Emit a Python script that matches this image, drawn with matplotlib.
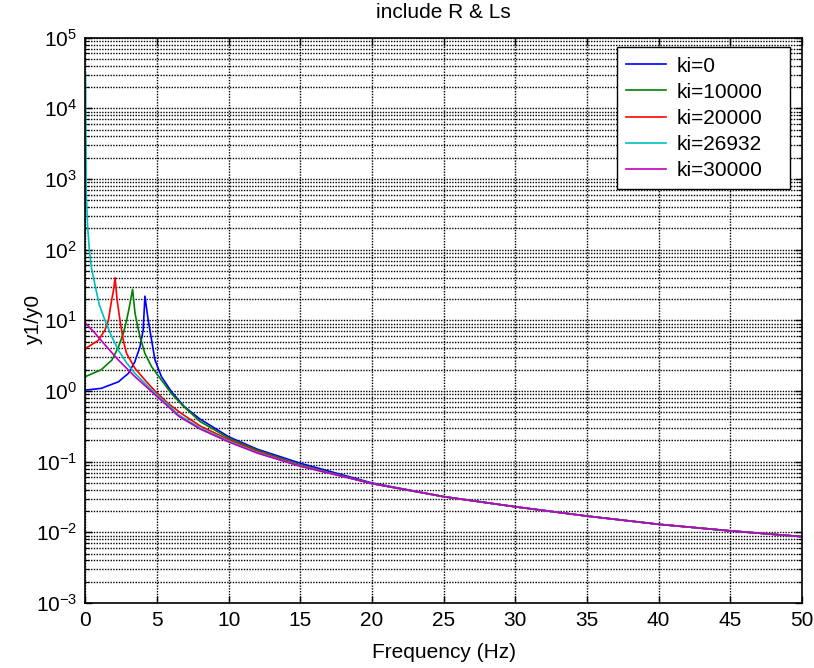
import numpy as np
import matplotlib.pyplot as plt
from matplotlib.ticker import LogLocator, MultipleLocator, NullFormatter

# Matplotlib global settings
plt.rcParams['font.family'] = ['Liberation Sans', 'DejaVu Sans']
plt.rcParams['font.size'] = 15
plt.rcParams['mathtext.fontset'] = 'custom'
plt.rcParams['mathtext.rm'] = 'Liberation Sans'
plt.rcParams['mathtext.it'] = 'Liberation Sans'

# Frequency response |y1/y0| for each integral gain
freq_ki0 = [0, 1.1, 2.3, 3.0, 3.45, 3.8, 4.03, 4.15, 4.38, 4.62, 4.85, 5.3, 6.0, 6.9, 8.0, 10, 12, 15, 20]
mag_ki0 = [1.03, 1.09, 1.35, 1.78, 2.6, 4.2, 7.3, 22, 10, 5.2, 2.75, 1.6, 0.98, 0.6, 0.40, 0.225, 0.15, 0.095, 0.05]

freq_ki10000 = [0, 1.1, 1.85, 2.3, 2.65, 2.87, 3.05, 3.29, 3.45, 3.6, 3.8, 4.15, 4.62, 5.3, 6.0, 6.8, 8.0, 10, 12, 15, 20]
mag_ki10000 = [1.6, 2.0, 2.75, 4.2, 6.6, 10, 15, 27.5, 13, 9, 5.9, 3.4, 2.2, 1.43, 0.92, 0.62, 0.37, 0.215, 0.145, 0.09, 0.049]

freq_ki20000 = [0, 0.9, 1.36, 1.6, 1.8, 1.95, 2.07, 2.2, 2.41, 2.64, 2.87, 3.45, 4.15, 4.85, 5.8, 6.7, 8.0, 10, 12, 15, 20]
mag_ki20000 = [4.0, 5.2, 7.3, 10, 18, 26, 40, 20, 10, 5.2, 3.4, 2.1, 1.43, 1.0, 0.66, 0.48, 0.32, 0.205, 0.14, 0.088, 0.049]

freq_ki26932 = [0, 0.05, 0.15, 0.27, 0.42, 0.69, 0.95, 1.36, 1.83, 2.29, 2.87, 3.45, 4.62, 5.8, 6.5, 8.0, 10, 12, 15, 20]
mag_ki26932 = [32000, 700, 211, 100, 55, 30, 17, 10, 5.9, 3.8, 2.5, 1.78, 1.03, 0.63, 0.46, 0.30, 0.195, 0.135, 0.087, 0.049]

freq_ki30000 = [0, 0.66, 1.36, 2.29, 3.45, 4.62, 5.78, 6.5, 8.0, 10, 12, 15, 20]
mag_ki30000 = [9.1, 6.6, 4.5, 2.75, 1.6, 0.98, 0.6, 0.44, 0.29, 0.19, 0.132, 0.086, 0.049]

# above ~20 Hz all five responses coincide
freq_tail = [25, 30, 35, 40, 45, 50]
mag_tail = [0.032, 0.023, 0.017, 0.013, 0.0105, 0.0087]

series = [
    ('ki=0', freq_ki0, mag_ki0, (0, 0, 1)),
    ('ki=10000', freq_ki10000, mag_ki10000, (0, 0.5, 0)),
    ('ki=20000', freq_ki20000, mag_ki20000, (1, 0, 0)),
    ('ki=26932', freq_ki26932, mag_ki26932, (0, 0.75, 0.75)),
    ('ki=30000', freq_ki30000, mag_ki30000, (0.75, 0, 0.75)),
]

fig = plt.figure(figsize=(8.14, 6.68), dpi=100)
ax = fig.add_axes([0.105, 0.0973, 0.880, 0.8463])

for label, f, m, c in series:
    ax.plot(f + freq_tail, m + mag_tail, color=c, lw=1.2, label=label)

ax.set_yscale('log')
ax.set_xlim(0, 50)
ax.set_ylim(1e-3, 1e5)
ax.xaxis.set_major_locator(MultipleLocator(5))
ax.yaxis.set_major_locator(LogLocator(base=10, numticks=20))
ax.yaxis.set_minor_locator(LogLocator(base=10, subs=np.arange(2, 10), numticks=100))
ax.yaxis.set_minor_formatter(NullFormatter())

# dotted grid, minor lines on the log axis as well
grid_style = dict(color='k', linestyle=(0, (1, 1)), linewidth=1.0)
ax.grid(True, which='major', axis='both', **grid_style)
ax.grid(True, which='minor', axis='y', **grid_style)
ax.set_axisbelow(True)

ax.tick_params(which='both', direction='in', top=True, right=True, labelsize=15)
ax.tick_params(which='major', length=5, width=1, pad=6)
ax.tick_params(which='minor', length=3, width=0.8)
for sp in ax.spines.values():
    sp.set_linewidth(1.2)

ax.set_title('include R & Ls', fontsize=15, pad=14)
ax.set_xlabel('Frequency (Hz)', fontsize=15, labelpad=9)
ax.set_ylabel('y1/y0', fontsize=15, labelpad=-5)

# legend box stretched to a fixed width, entries flush left
leg = ax.legend(loc='upper right', bbox_to_anchor=(0.742, 0.0, 0.241, 0.983),
                mode='expand', borderaxespad=0, fancybox=False, edgecolor='k',
                framealpha=1, handlelength=1.9, handletextpad=0.5,
                labelspacing=0.34, borderpad=0.45, fontsize=15)
leg.get_frame().set_linewidth(1.0)

fig.savefig('out.png', dpi=100)
